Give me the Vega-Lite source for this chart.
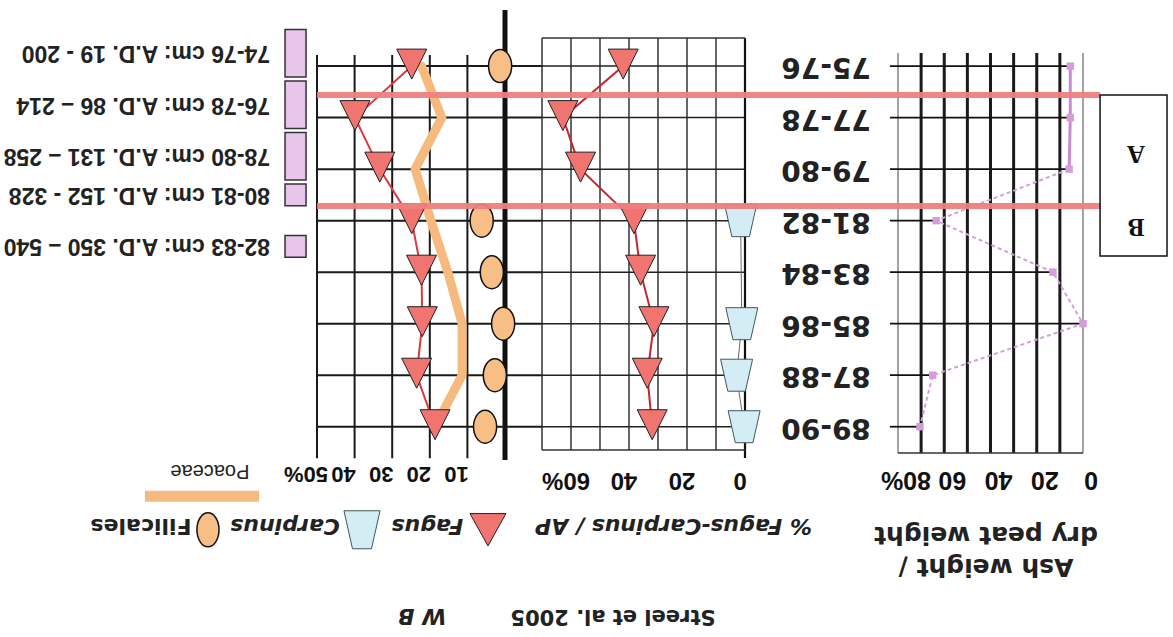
{
"$schema": "https://vega.github.io/schema/vega-lite/v6.json",
"width": 1173, "height": 637,
"autosize": {"type": "fit", "contains": "padding"},
"padding": 0,
"background": "white",
"config": {"view": {"stroke": null}},
"datasets": {
 "pollen": [
  {"depth": 75.5, "label": "75-76", "fagus_sum": 24.8, "poaceae": 22.2, "fagus_ap": 42.0, "ash": 5.5},
  {"depth": 77.5, "label": "77-78", "fagus_sum": 39.9, "poaceae": 16.8, "fagus_ap": 62.8, "ash": 5.5},
  {"depth": 79.5, "label": "79-80", "fagus_sum": 33.3, "poaceae": 23.9, "fagus_ap": 56.7, "ash": 6.0},
  {"depth": 81.5, "label": "81-82", "fagus_sum": 24.8, "poaceae": 19.7, "fagus_ap": 38.3, "ash": 63.5},
  {"depth": 83.5, "label": "83-84", "fagus_sum": 22.2, "poaceae": 15.2, "fagus_ap": 36.0, "ash": 13.0},
  {"depth": 85.5, "label": "85-86", "fagus_sum": 22.0, "poaceae": 11.4, "fagus_ap": 31.4, "ash": 0.0},
  {"depth": 87.5, "label": "87-88", "fagus_sum": 23.5, "poaceae": 11.4, "fagus_ap": 33.7, "ash": 65.0},
  {"depth": 89.5, "label": "89-90", "fagus_sum": 18.6, "poaceae": 18.6, "fagus_ap": 32.0, "ash": 70.5}
 ],
 "filicales": [
  {"depth": 75.5, "filicales": 1.3},
  {"depth": 81.5, "filicales": 6.2},
  {"depth": 83.5, "filicales": 3.5},
  {"depth": 85.5, "filicales": 0.5},
  {"depth": 87.5, "filicales": 2.7},
  {"depth": 89.5, "filicales": 5.3}
 ],
 "carpinus": [
  {"depth": 81.5, "carpinus": 1.5},
  {"depth": 85.5, "carpinus": 1.1},
  {"depth": 87.5, "carpinus": 2.9},
  {"depth": 89.5, "carpinus": 0.3}
 ],
 "dates": [
  {"from": 74, "to": 76, "depth": 75, "label": "74-76 cm: A.D. 19 - 200"},
  {"from": 76, "to": 78, "depth": 77, "label": "76-78 cm: A.D. 86 – 214"},
  {"from": 78, "to": 80, "depth": 79, "label": "78-80 cm: A.D. 131 – 258"},
  {"from": 80, "to": 81, "depth": 80.5, "label": "80-81 cm: A.D. 152 - 328"},
  {"from": 82, "to": 83, "depth": 82.5, "label": "82-83 cm: A.D. 350 – 540"}
 ],
 "zones": [
  {"zone": "A", "from": 76.62, "to": 80.93, "mid": 78.9},
  {"zone": "B", "from": 80.93, "to": 82.87, "mid": 81.75}
 ],
 "poa_grid": [{"v": 10}, {"v": 20}, {"v": 30}, {"v": 40}, {"v": 50}],
 "poa_ticks": [{"v": 10, "label": "10"}, {"v": 20, "label": "20"}, {"v": 30, "label": "30"}, {"v": 40, "label": "40"}, {"v": 50, "label": "50%"}],
 "fag_grid": [{"v": 0}, {"v": 10}, {"v": 20}, {"v": 30}, {"v": 40}, {"v": 50}, {"v": 60}, {"v": 70}],
 "fag_ticks": [{"v": 0, "label": "0"}, {"v": 20, "label": "20"}, {"v": 40, "label": "40"}, {"v": 60, "label": "60%"}],
 "ash_thick": [{"v": 10}, {"v": 20}, {"v": 30}, {"v": 40}, {"v": 50}, {"v": 60}, {"v": 70}],
 "ash_thin": [{"v": 0}, {"v": 80}],
 "ash_ticks": [{"v": 0, "label": "0"}, {"v": 20, "label": "20"}, {"v": 40, "label": "40"}, {"v": 60, "label": "60"}, {"v": 80, "label": "80%"}],
 "one": [{}]
},
"resolve": {"scale": {"x": "independent"}, "axis": {"x": "independent"}},
"layer": [
 {"layer": [
  {"data": {"name": "poa_grid"}, "mark": {"type": "rule", "color": "#1a1a1a", "strokeWidth": 2},
   "encoding": {
    "x": {"field": "v", "type": "quantitative", "scale": {"domain": [-177.66, 134.31], "reverse": true, "nice": false, "zero": false}, "axis": null},
    "y": {"datum": 75.07, "type": "quantitative", "scale": {"domain": [72.934, 97.663], "reverse": true, "nice": false, "zero": false}, "axis": null},
    "y2": {"datum": 90.72}}},
  {"data": {"name": "poa_ticks"}, "mark": {"type": "text", "angle": 180, "align": "center", "baseline": "middle", "font": "Liberation Sans", "fontWeight": "bold", "fontSize": 22, "color": "#111", "xOffset": -11},
   "encoding": {
    "x": {"field": "v", "type": "quantitative", "scale": {"domain": [-177.66, 134.31], "reverse": true, "nice": false, "zero": false}, "axis": null},
    "y": {"datum": 91.334, "type": "quantitative", "scale": {"domain": [72.934, 97.663], "reverse": true, "nice": false, "zero": false}, "axis": null},
    "text": {"field": "label"}}},
  {"data": {"name": "one"}, "mark": {"type": "rule", "color": "#111", "strokeWidth": 5},
   "encoding": {
    "x": {"datum": 0, "type": "quantitative", "scale": {"domain": [-177.66, 134.31], "reverse": true, "nice": false, "zero": false}, "axis": null},
    "y": {"datum": 73.32, "type": "quantitative", "scale": {"domain": [72.934, 97.663], "reverse": true, "nice": false, "zero": false}, "axis": null},
    "y2": {"datum": 90.79}}},
  {"data": {"name": "pollen"}, "mark": {"type": "rule", "color": "#1a1a1a", "strokeWidth": 2},
   "encoding": {
    "x": {"datum": 50, "type": "quantitative", "scale": {"domain": [-177.66, 134.31], "reverse": true, "nice": false, "zero": false}, "axis": null},
    "x2": {"datum": -10.1},
    "y": {"field": "depth", "type": "quantitative", "scale": {"domain": [72.934, 97.663], "reverse": true, "nice": false, "zero": false}, "axis": null}}},
  {"data": {"name": "pollen"}, "mark": {"type": "line", "color": "#F6B97E", "strokeWidth": 9, "strokeJoin": "round", "strokeCap": "round"},
   "encoding": {
    "x": {"field": "poaceae", "type": "quantitative", "scale": {"domain": [-177.66, 134.31], "reverse": true, "nice": false, "zero": false}, "axis": null},
    "y": {"field": "depth", "type": "quantitative", "scale": {"domain": [72.934, 97.663], "reverse": true, "nice": false, "zero": false}, "axis": null},
    "order": {"field": "depth"}}},
  {"data": {"name": "pollen"}, "mark": {"type": "line", "color": "#D93A3F", "strokeWidth": 2},
   "encoding": {
    "x": {"field": "fagus_sum", "type": "quantitative", "scale": {"domain": [-177.66, 134.31], "reverse": true, "nice": false, "zero": false}, "axis": null},
    "y": {"field": "depth", "type": "quantitative", "scale": {"domain": [72.934, 97.663], "reverse": true, "nice": false, "zero": false}, "axis": null},
    "order": {"field": "depth"}}},
  {"data": {"name": "pollen"}, "mark": {"type": "point", "shape": "M -1 -1 L 1 -1 L 0 1 Z", "size": 900, "filled": true, "fill": "#F07470", "stroke": "#222", "strokeWidth": 1, "opacity": 1, "yOffset": -2},
   "encoding": {
    "x": {"field": "fagus_sum", "type": "quantitative", "scale": {"domain": [-177.66, 134.31], "reverse": true, "nice": false, "zero": false}, "axis": null},
    "y": {"field": "depth", "type": "quantitative", "scale": {"domain": [72.934, 97.663], "reverse": true, "nice": false, "zero": false}, "axis": null}}},
  {"data": {"name": "filicales"}, "mark": {"type": "point", "shape": "M 0 -1 C 0.3866 -1 0.7 -0.5523 0.7 0 C 0.7 0.5523 0.3866 1 0 1 C -0.3866 1 -0.7 0.5523 -0.7 0 C -0.7 -0.5523 -0.3866 -1 0 -1 Z", "size": 1089, "filled": true, "fill": "#F7BE85", "stroke": "#111", "strokeWidth": 1.5, "opacity": 1},
   "encoding": {
    "x": {"field": "filicales", "type": "quantitative", "scale": {"domain": [-177.66, 134.31], "reverse": true, "nice": false, "zero": false}, "axis": null},
    "y": {"field": "depth", "type": "quantitative", "scale": {"domain": [72.934, 97.663], "reverse": true, "nice": false, "zero": false}, "axis": null}}}
 ]},
 {"layer": [
  {"data": {"name": "fag_grid"}, "mark": {"type": "rule", "color": "#333", "strokeWidth": 1.5},
   "encoding": {
    "x": {"field": "v", "type": "quantitative", "scale": {"domain": [-147.59, 256.9], "reverse": true, "nice": false, "zero": false}, "axis": null},
    "y": {"datum": 74.41, "type": "quantitative", "scale": {"domain": [72.934, 97.663], "reverse": true, "nice": false, "zero": false}, "axis": null},
    "y2": {"datum": 90.4}}},
  {"data": {"name": "fag_ticks"}, "mark": {"type": "text", "angle": 180, "align": "center", "baseline": "middle", "font": "Liberation Sans", "fontWeight": "bold", "fontSize": 24, "color": "#111", "xOffset": -5},
   "encoding": {
    "x": {"field": "v", "type": "quantitative", "scale": {"domain": [-147.59, 256.9], "reverse": true, "nice": false, "zero": false}, "axis": null},
    "y": {"datum": 91.567, "type": "quantitative", "scale": {"domain": [72.934, 97.663], "reverse": true, "nice": false, "zero": false}, "axis": null},
    "text": {"field": "label"}}},
  {"data": {"name": "one"}, "mark": {"type": "rule", "color": "#111", "strokeWidth": 2.2},
   "encoding": {
    "x": {"datum": 0, "type": "quantitative", "scale": {"domain": [-147.59, 256.9], "reverse": true, "nice": false, "zero": false}, "axis": null},
    "y": {"datum": 74.41, "type": "quantitative", "scale": {"domain": [72.934, 97.663], "reverse": true, "nice": false, "zero": false}, "axis": null},
    "y2": {"datum": 90.71}}},
  {"data": {"name": "one"}, "mark": {"type": "rule", "color": "#333", "strokeWidth": 1.5},
   "encoding": {
    "x": {"datum": 70, "type": "quantitative", "scale": {"domain": [-147.59, 256.9], "reverse": true, "nice": false, "zero": false}, "axis": null},
    "x2": {"datum": 0},
    "y": {"datum": 74.41, "type": "quantitative", "scale": {"domain": [72.934, 97.663], "reverse": true, "nice": false, "zero": false}, "axis": null}}},
  {"data": {"name": "one"}, "mark": {"type": "rule", "color": "#333", "strokeWidth": 1.5},
   "encoding": {
    "x": {"datum": 70, "type": "quantitative", "scale": {"domain": [-147.59, 256.9], "reverse": true, "nice": false, "zero": false}, "axis": null},
    "x2": {"datum": 0},
    "y": {"datum": 90.4, "type": "quantitative", "scale": {"domain": [72.934, 97.663], "reverse": true, "nice": false, "zero": false}, "axis": null}}},
  {"data": {"name": "pollen"}, "mark": {"type": "rule", "color": "#222", "strokeWidth": 1.5},
   "encoding": {
    "x": {"datum": 70, "type": "quantitative", "scale": {"domain": [-147.59, 256.9], "reverse": true, "nice": false, "zero": false}, "axis": null},
    "x2": {"datum": 0},
    "y": {"field": "depth", "type": "quantitative", "scale": {"domain": [72.934, 97.663], "reverse": true, "nice": false, "zero": false}, "axis": null}}},
  {"data": {"name": "carpinus"}, "mark": {"type": "line", "color": "#666", "strokeWidth": 1},
   "encoding": {
    "x": {"field": "carpinus", "type": "quantitative", "scale": {"domain": [-147.59, 256.9], "reverse": true, "nice": false, "zero": false}, "axis": null},
    "y": {"field": "depth", "type": "quantitative", "scale": {"domain": [72.934, 97.663], "reverse": true, "nice": false, "zero": false}, "axis": null},
    "order": {"field": "depth"}}},
  {"data": {"name": "pollen"}, "mark": {"type": "line", "color": "#C4262E", "strokeWidth": 2},
   "encoding": {
    "x": {"field": "fagus_ap", "type": "quantitative", "scale": {"domain": [-147.59, 256.9], "reverse": true, "nice": false, "zero": false}, "axis": null},
    "y": {"field": "depth", "type": "quantitative", "scale": {"domain": [72.934, 97.663], "reverse": true, "nice": false, "zero": false}, "axis": null},
    "order": {"field": "depth"}}},
  {"data": {"name": "pollen"}, "mark": {"type": "point", "shape": "M -1 -1 L 1 -1 L 0 1 Z", "size": 900, "filled": true, "fill": "#F07470", "stroke": "#222", "strokeWidth": 1, "opacity": 1, "yOffset": -2},
   "encoding": {
    "x": {"field": "fagus_ap", "type": "quantitative", "scale": {"domain": [-147.59, 256.9], "reverse": true, "nice": false, "zero": false}, "axis": null},
    "y": {"field": "depth", "type": "quantitative", "scale": {"domain": [72.934, 97.663], "reverse": true, "nice": false, "zero": false}, "axis": null}}},
  {"data": {"name": "carpinus"}, "mark": {"type": "point", "shape": "M -1 -1 L 1 -1 L 0.55 1 L -0.55 1 Z", "size": 1024, "filled": true, "fill": "#D4ECF4", "stroke": "#3d5a5a", "strokeWidth": 1, "opacity": 1},
   "encoding": {
    "x": {"field": "carpinus", "type": "quantitative", "scale": {"domain": [-147.59, 256.9], "reverse": true, "nice": false, "zero": false}, "axis": null},
    "y": {"field": "depth", "type": "quantitative", "scale": {"domain": [72.934, 97.663], "reverse": true, "nice": false, "zero": false}, "axis": null}}}
 ]},
 {"layer": [
  {"data": {"name": "ash_thin"}, "mark": {"type": "rule", "color": "#666", "strokeWidth": 1.2},
   "encoding": {
    "x": {"field": "v", "type": "quantitative", "scale": {"domain": [-38.92, 468.32], "reverse": true, "nice": false, "zero": false}, "axis": null},
    "y": {"datum": 74.99, "type": "quantitative", "scale": {"domain": [72.934, 97.663], "reverse": true, "nice": false, "zero": false}, "axis": null},
    "y2": {"datum": 90.52}}},
  {"data": {"name": "ash_ticks"}, "mark": {"type": "text", "angle": 180, "align": "center", "baseline": "middle", "font": "Liberation Sans", "fontWeight": "bold", "fontSize": 25, "color": "#111", "xOffset": 8},
   "encoding": {
    "x": {"field": "v", "type": "quantitative", "scale": {"domain": [-38.92, 468.32], "reverse": true, "nice": false, "zero": false}, "axis": null},
    "y": {"datum": 91.567, "type": "quantitative", "scale": {"domain": [72.934, 97.663], "reverse": true, "nice": false, "zero": false}, "axis": null},
    "text": {"field": "label"}}},
  {"data": {"name": "ash_thick"}, "mark": {"type": "rule", "color": "#1a1a1a", "strokeWidth": 3},
   "encoding": {
    "x": {"field": "v", "type": "quantitative", "scale": {"domain": [-38.92, 468.32], "reverse": true, "nice": false, "zero": false}, "axis": null},
    "y": {"datum": 74.99, "type": "quantitative", "scale": {"domain": [72.934, 97.663], "reverse": true, "nice": false, "zero": false}, "axis": null},
    "y2": {"datum": 90.52}}},
  {"data": {"name": "one"}, "mark": {"type": "rule", "color": "#333", "strokeWidth": 1.5},
   "encoding": {
    "x": {"datum": 80, "type": "quantitative", "scale": {"domain": [-38.92, 468.32], "reverse": true, "nice": false, "zero": false}, "axis": null},
    "x2": {"datum": 0},
    "y": {"datum": 90.52, "type": "quantitative", "scale": {"domain": [72.934, 97.663], "reverse": true, "nice": false, "zero": false}, "axis": null}}},
  {"data": {"name": "pollen"}, "mark": {"type": "rule", "color": "#111", "strokeWidth": 1.8},
   "encoding": {
    "x": {"field": "ash", "type": "quantitative", "scale": {"domain": [-38.92, 468.32], "reverse": true, "nice": false, "zero": false}, "axis": null},
    "x2": {"datum": 83.5},
    "y": {"field": "depth", "type": "quantitative", "scale": {"domain": [72.934, 97.663], "reverse": true, "nice": false, "zero": false}, "axis": null}}},
  {"data": {"name": "pollen"}, "transform": [{"filter": "datum.depth <= 80"}], "mark": {"type": "line", "color": "#C98BD3", "strokeWidth": 3},
   "encoding": {
    "x": {"field": "ash", "type": "quantitative", "scale": {"domain": [-38.92, 468.32], "reverse": true, "nice": false, "zero": false}, "axis": null},
    "y": {"field": "depth", "type": "quantitative", "scale": {"domain": [72.934, 97.663], "reverse": true, "nice": false, "zero": false}, "axis": null},
    "order": {"field": "depth"}}},
  {"data": {"name": "pollen"}, "transform": [{"filter": "datum.depth >= 79"}], "mark": {"type": "line", "color": "#D3A0DA", "strokeWidth": 2, "strokeDash": [4, 3]},
   "encoding": {
    "x": {"field": "ash", "type": "quantitative", "scale": {"domain": [-38.92, 468.32], "reverse": true, "nice": false, "zero": false}, "axis": null},
    "y": {"field": "depth", "type": "quantitative", "scale": {"domain": [72.934, 97.663], "reverse": true, "nice": false, "zero": false}, "axis": null},
    "order": {"field": "depth"}}},
  {"data": {"name": "pollen"}, "mark": {"type": "point", "shape": "square", "size": 55, "filled": true, "color": "#D79BDD", "opacity": 1},
   "encoding": {
    "x": {"field": "ash", "type": "quantitative", "scale": {"domain": [-38.92, 468.32], "reverse": true, "nice": false, "zero": false}, "axis": null},
    "y": {"field": "depth", "type": "quantitative", "scale": {"domain": [72.934, 97.663], "reverse": true, "nice": false, "zero": false}, "axis": null}}},
  {"data": {"name": "pollen"}, "mark": {"type": "text", "angle": 180, "align": "center", "baseline": "middle", "font": "DejaVu Sans", "fontWeight": "bold", "fontSize": 28, "color": "#222"},
   "encoding": {
    "x": {"datum": 111.1, "type": "quantitative", "scale": {"domain": [-38.92, 468.32], "reverse": true, "nice": false, "zero": false}, "axis": null},
    "y": {"field": "depth", "type": "quantitative", "scale": {"domain": [72.934, 97.663], "reverse": true, "nice": false, "zero": false}, "axis": null},
    "text": {"field": "label"}}}
 ]},
 {"layer": [
  {"data": {"name": "dates"}, "mark": {"type": "rect", "fill": "#E8C6EC", "stroke": "#333", "strokeWidth": 1.5, "yOffset": 2, "y2Offset": -2},
   "encoding": {
    "x": {"datum": 24.3, "type": "quantitative", "scale": {"domain": [0, 100], "nice": false, "zero": false}, "axis": null},
    "x2": {"datum": 26.09},
    "y": {"field": "from", "type": "quantitative", "scale": {"domain": [72.934, 97.663], "reverse": true, "nice": false, "zero": false}, "axis": null},
    "y2": {"field": "to"}}},
  {"data": {"name": "dates"}, "mark": {"type": "text", "angle": 180, "align": "left", "baseline": "middle", "font": "Liberation Sans", "fontWeight": "bold", "fontSize": 23, "color": "#222"},
   "encoding": {
    "x": {"datum": 23.02, "type": "quantitative", "scale": {"domain": [0, 100], "nice": false, "zero": false}, "axis": null},
    "y": {"field": "depth", "type": "quantitative", "scale": {"domain": [72.934, 97.663], "reverse": true, "nice": false, "zero": false}, "axis": null},
    "text": {"field": "label"}}},
  {"data": {"name": "zones"}, "mark": {"type": "rule", "color": "#EF7E80", "strokeWidth": 6, "opacity": 0.95},
   "encoding": {
    "x": {"datum": 27.03, "type": "quantitative", "scale": {"domain": [0, 100], "nice": false, "zero": false}, "axis": null},
    "x2": {"datum": 93.78},
    "y": {"field": "from", "type": "quantitative", "scale": {"domain": [72.934, 97.663], "reverse": true, "nice": false, "zero": false}, "axis": null}}},
  {"data": {"name": "zones"}, "mark": {"type": "rect", "fill": "white", "fillOpacity": 0, "stroke": "#111", "strokeWidth": 1.5},
   "encoding": {
    "x": {"datum": 93.78, "type": "quantitative", "scale": {"domain": [0, 100], "nice": false, "zero": false}, "axis": null},
    "x2": {"datum": 99.49},
    "y": {"aggregate": "min", "field": "from", "type": "quantitative", "scale": {"domain": [72.934, 97.663], "reverse": true, "nice": false, "zero": false}, "axis": null},
    "y2": {"aggregate": "max", "field": "to"}}},
  {"data": {"name": "zones"}, "mark": {"type": "text", "angle": 180, "align": "center", "baseline": "middle", "font": "Liberation Serif", "fontWeight": "bold", "fontSize": 25, "color": "#111"},
   "encoding": {
    "x": {"datum": 96.85, "type": "quantitative", "scale": {"domain": [0, 100], "nice": false, "zero": false}, "axis": null},
    "y": {"field": "mid", "type": "quantitative", "scale": {"domain": [72.934, 97.663], "reverse": true, "nice": false, "zero": false}, "axis": null},
    "text": {"field": "zone"}}},
  {"data": {"name": "one"}, "mark": {"type": "rule", "color": "#F6BA80", "strokeWidth": 11},
   "encoding": {
    "x": {"datum": 12.36, "type": "quantitative", "scale": {"domain": [0, 100], "nice": false, "zero": false}, "axis": null},
    "x2": {"datum": 22.08},
    "y": {"datum": 92.2, "type": "quantitative", "scale": {"domain": [72.934, 97.663], "reverse": true, "nice": false, "zero": false}, "axis": null}}},
  {"data": {"name": "one"}, "mark": {"type": "text", "text": "Poaceae", "angle": 180, "align": "center", "baseline": "middle", "font": "Liberation Sans", "fontSize": 20, "color": "#222"},
   "encoding": {
    "x": {"datum": 17.9, "type": "quantitative", "scale": {"domain": [0, 100], "nice": false, "zero": false}, "axis": null},
    "y": {"datum": 91.2, "type": "quantitative", "scale": {"domain": [72.934, 97.663], "reverse": true, "nice": false, "zero": false}, "axis": null}}},
  {"data": {"name": "one"}, "mark": {"type": "point", "shape": "M -1 -0.9 L 1 -0.9 L 0 0.9 Z", "size": 1296, "filled": true, "fill": "#F07470", "stroke": "#222", "strokeWidth": 1, "opacity": 1},
   "encoding": {
    "x": {"datum": 41.6, "type": "quantitative", "scale": {"domain": [0, 100], "nice": false, "zero": false}, "axis": null},
    "y": {"datum": 93.5, "type": "quantitative", "scale": {"domain": [72.934, 97.663], "reverse": true, "nice": false, "zero": false}, "axis": null}}},
  {"data": {"name": "one"}, "mark": {"type": "point", "shape": "M -0.95 -1 L 0.95 -1 L 0.5 1 L -0.5 1 Z", "size": 1444, "filled": true, "fill": "#D4ECF4", "stroke": "#3d5a5a", "strokeWidth": 1, "opacity": 1},
   "encoding": {
    "x": {"datum": 30.86, "type": "quantitative", "scale": {"domain": [0, 100], "nice": false, "zero": false}, "axis": null},
    "y": {"datum": 93.5, "type": "quantitative", "scale": {"domain": [72.934, 97.663], "reverse": true, "nice": false, "zero": false}, "axis": null}}},
  {"data": {"name": "one"}, "mark": {"type": "point", "shape": "M 0 -1 C 0.359 -1 0.65 -0.5523 0.65 0 C 0.65 0.5523 0.359 1 0 1 C -0.359 1 -0.65 0.5523 -0.65 0 C -0.65 -0.5523 -0.359 -1 0 -1 Z", "size": 1156, "filled": true, "fill": "#F7BE85", "stroke": "#111", "strokeWidth": 1.5, "opacity": 1},
   "encoding": {
    "x": {"datum": 17.73, "type": "quantitative", "scale": {"domain": [0, 100], "nice": false, "zero": false}, "axis": null},
    "y": {"datum": 93.5, "type": "quantitative", "scale": {"domain": [72.934, 97.663], "reverse": true, "nice": false, "zero": false}, "axis": null}}},
  {"data": {"name": "one"}, "mark": {"type": "text", "text": "Fagus", "angle": 180, "align": "center", "baseline": "middle", "font": "DejaVu Sans", "fontWeight": "bold", "fontStyle": "italic", "fontSize": 22, "color": "#222"},
   "encoding": {
    "x": {"datum": 36.44, "type": "quantitative", "scale": {"domain": [0, 100], "nice": false, "zero": false}, "axis": null},
    "y": {"datum": 93.35, "type": "quantitative", "scale": {"domain": [72.934, 97.663], "reverse": true, "nice": false, "zero": false}, "axis": null}}},
  {"data": {"name": "one"}, "mark": {"type": "text", "text": "Carpinus", "angle": 180, "align": "center", "baseline": "middle", "font": "DejaVu Sans", "fontWeight": "bold", "fontStyle": "italic", "fontSize": 22, "color": "#222"},
   "encoding": {
    "x": {"datum": 24.3, "type": "quantitative", "scale": {"domain": [0, 100], "nice": false, "zero": false}, "axis": null},
    "y": {"datum": 93.35, "type": "quantitative", "scale": {"domain": [72.934, 97.663], "reverse": true, "nice": false, "zero": false}, "axis": null}}},
  {"data": {"name": "one"}, "mark": {"type": "text", "text": "Filicales", "angle": 180, "align": "center", "baseline": "middle", "font": "DejaVu Sans", "fontWeight": "bold", "fontSize": 22, "color": "#222"},
   "encoding": {
    "x": {"datum": 12.02, "type": "quantitative", "scale": {"domain": [0, 100], "nice": false, "zero": false}, "axis": null},
    "y": {"datum": 93.35, "type": "quantitative", "scale": {"domain": [72.934, 97.663], "reverse": true, "nice": false, "zero": false}, "axis": null}}},
  {"data": {"name": "one"}, "mark": {"type": "text", "text": "% Fagus-Carpinus / AP", "angle": 180, "align": "center", "baseline": "middle", "font": "DejaVu Sans", "fontWeight": "bold", "fontStyle": "italic", "fontSize": 22, "color": "#222"},
   "encoding": {
    "x": {"datum": 57.42, "type": "quantitative", "scale": {"domain": [0, 100], "nice": false, "zero": false}, "axis": null},
    "y": {"datum": 93.35, "type": "quantitative", "scale": {"domain": [72.934, 97.663], "reverse": true, "nice": false, "zero": false}, "axis": null}}},
  {"data": {"name": "one"}, "mark": {"type": "text", "text": "dry peat weight", "angle": 180, "align": "center", "baseline": "middle", "font": "DejaVu Sans", "fontWeight": "bold", "fontSize": 25, "color": "#222"},
   "encoding": {
    "x": {"datum": 84.06, "type": "quantitative", "scale": {"domain": [0, 100], "nice": false, "zero": false}, "axis": null},
    "y": {"datum": 93.7, "type": "quantitative", "scale": {"domain": [72.934, 97.663], "reverse": true, "nice": false, "zero": false}, "axis": null}}},
  {"data": {"name": "one"}, "mark": {"type": "text", "text": "Ash weight /", "angle": 180, "align": "center", "baseline": "middle", "font": "DejaVu Sans", "fontWeight": "bold", "fontSize": 25, "color": "#222"},
   "encoding": {
    "x": {"datum": 84.06, "type": "quantitative", "scale": {"domain": [0, 100], "nice": false, "zero": false}, "axis": null},
    "y": {"datum": 94.94, "type": "quantitative", "scale": {"domain": [72.934, 97.663], "reverse": true, "nice": false, "zero": false}, "axis": null}}},
  {"data": {"name": "one"}, "mark": {"type": "text", "text": "Streel et al. 2005", "angle": 180, "align": "center", "baseline": "middle", "font": "DejaVu Sans", "fontWeight": "bold", "fontSize": 21, "color": "#222"},
   "encoding": {
    "x": {"datum": 52.26, "type": "quantitative", "scale": {"domain": [0, 100], "nice": false, "zero": false}, "axis": null},
    "y": {"datum": 96.85, "type": "quantitative", "scale": {"domain": [72.934, 97.663], "reverse": true, "nice": false, "zero": false}, "axis": null}}},
  {"data": {"name": "one"}, "mark": {"type": "text", "text": "W B", "angle": 180, "align": "center", "baseline": "middle", "font": "DejaVu Sans", "fontWeight": "bold", "fontStyle": "italic", "fontSize": 22, "color": "#222"},
   "encoding": {
    "x": {"datum": 35.98, "type": "quantitative", "scale": {"domain": [0, 100], "nice": false, "zero": false}, "axis": null},
    "y": {"datum": 96.85, "type": "quantitative", "scale": {"domain": [72.934, 97.663], "reverse": true, "nice": false, "zero": false}, "axis": null}}}
 ]}
]
}
